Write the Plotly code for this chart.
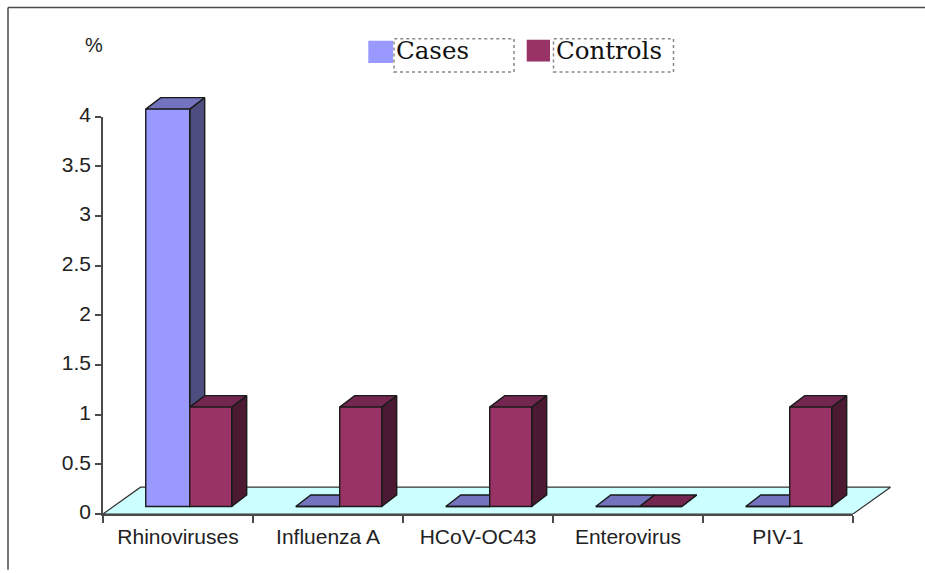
import plotly.graph_objects as go

categories = ["Rhinoviruses", "Influenza A", "HCoV-OC43", "Enterovirus", "PIV-1"]
cases = [4, 0, 0, 0, 0]
controls = [1, 1, 1, 0, 1]
y_ticks = [0, 0.5, 1, 1.5, 2, 2.5, 3, 3.5, 4]
series_names = ["Cases", "Controls"]

# --- styling / 3D projection parameters ---
W, H = 925, 573
ML, PR, PT, PB = 103, 895, 90, 514.3   # plot box that holds the marks (pixels)
AXR, AXT = 853, 116.7                  # right end of x axis, top of y axis (pixels)
PXX = (AXR - ML) / len(categories)     # pixels per category
PXY = (PB - AXT) / 4                   # pixels per unit
XR = [-0.5, len(categories) - 0.5]
YR = [0, 4]
XR_M = [-0.5, -0.5 + (PR - ML) / PXX]  # same scale, wider box so depth can overhang
YR_M = [0, (PB - PT) / PXY]
BASE = 0.076           # bars stand slightly in from the front edge of the floor
DX, DY = 0.1, 0.116    # depth of a bar
FDX, FDY = 0.25, 0.27  # depth of the floor
OFFS = [-0.215, 0.078]
WIDTHS = [0.293, 0.28]
FRONT = ["#9999FF", "#993366"]
TOP = ["#7373BF", "#732650"]
SIDE = ["#4D4D80", "#4C1933"]
EDGE = "#1a1a1a"
AXC = "#4a4a4a"
TXT = "#222222"

fig = go.Figure()

# empty trace keeps the visible axes alive
fig.add_trace(go.Scatter(x=[], y=[], xaxis="x", yaxis="y", showlegend=False, hoverinfo="skip"))

# floor
fig.add_trace(go.Scatter(
    x=[XR[0], XR[1], XR[1] + FDX, XR[0] + FDX, XR[0]],
    y=[0, 0, FDY, FDY, 0], xaxis="x2", yaxis="y2",
    mode="lines", fill="toself", fillcolor="#CCFFFF",
    line=dict(color="#333333", width=1.2), hoverinfo="skip", showlegend=False))


def poly(xs, ys, fill):
    fig.add_trace(go.Scatter(
        x=xs, y=ys, mode="lines", fill="toself", fillcolor=fill, xaxis="x2", yaxis="y2",
        line=dict(color=EDGE, width=1.4), hoverinfo="skip", showlegend=False))


# side and top faces, back to front
for s, vals in enumerate([cases, controls]):
    sx, sy, tx, ty = [], [], [], []
    for i, v in enumerate(vals):
        x0 = i + OFFS[s]
        x1 = x0 + WIDTHS[s]
        b, t = BASE, BASE + v
        sx += [x1, x1 + DX, x1 + DX, x1, x1, None]
        sy += [b, b + DY, t + DY, t, b, None]
        tx += [x0, x1, x1 + DX, x0 + DX, x0, None]
        ty += [t, t, t + DY, t + DY, t, None]
    poly(sx, sy, SIDE[s])
    poly(tx, ty, TOP[s])

# front faces, on an overlaying subplot so they sit above the side faces
for s, vals in enumerate([cases, controls]):
    fig.add_trace(go.Bar(
        x=list(range(len(categories))), y=vals, base=BASE, name=series_names[s],
        offset=OFFS[s], width=WIDTHS[s], marker=dict(color=FRONT[s], line=dict(color=EDGE, width=1.4)),
        xaxis="x3", yaxis="y3", showlegend=False))

axis_font = dict(family="Liberation Sans, Arial, sans-serif", size=21, color=TXT)


def px(x):
    return (x - ML) / (PR - ML)


def py(y):
    return (PB - y) / (PB - PT)


shapes = [
    dict(type="line", xref="paper", yref="paper", x0=px(8), x1=px(W), y0=py(7.5), y1=py(7.5),
         line=dict(color=AXC, width=1.5)),
    dict(type="line", xref="paper", yref="paper", x0=px(8), x1=px(8), y0=py(7.5), y1=py(570),
         line=dict(color=AXC, width=1.5)),
]

annotations = [dict(text="%", xref="paper", yref="paper", x=px(93.5), y=py(45), showarrow=False,
                    xanchor="center", yanchor="middle",
                    font=dict(family="Liberation Sans, Arial, sans-serif", size=20, color=TXT))]

legend_boxes = [(368.3, 393, 40.7, 63, 394, 514), (526.7, 550, 39.7, 61.5, 553.5, 673.5)]
for s, (a, b, c, d, e, f) in enumerate(legend_boxes):
    shapes.append(dict(type="rect", xref="paper", yref="paper", x0=px(a), x1=px(b), y0=py(d), y1=py(c),
                       fillcolor=FRONT[s], line=dict(width=0)))
    shapes.append(dict(type="rect", xref="paper", yref="paper", x0=px(e), x1=px(f), y0=py(72), y1=py(38.7),
                       fillcolor="white", line=dict(color="#888888", width=1.5, dash="dot")))
    annotations.append(dict(text=series_names[s], xref="paper", yref="paper", x=px(e), y=py(50),
                            showarrow=False, xanchor="left", yanchor="middle",
                            font=dict(family="DejaVu Serif, serif", size=24.5, color="#111111")))

fig.update_layout(
    width=W, height=H, autosize=False,
    margin=dict(l=ML, r=W - PR, t=PT, b=H - PB, pad=0),
    paper_bgcolor="white", plot_bgcolor="rgba(0,0,0,0)",
    showlegend=False, barmode="overlay",
    shapes=shapes, annotations=annotations,
    xaxis=dict(type="linear", domain=[0, px(AXR)], range=XR, anchor="y", tickmode="array",
               tickvals=list(range(len(categories))), ticktext=categories, ticks="", showgrid=False,
               zeroline=False, showline=True, linecolor=AXC, linewidth=1.5, tickfont=axis_font,
               ticklabelstandoff=3,
               minor=dict(tickmode="array", tickvals=[i - 0.5 for i in range(len(categories) + 1)],
                          ticks="outside", ticklen=7, tickwidth=1.5, tickcolor=AXC, showgrid=False)),
    yaxis=dict(domain=[0, py(AXT)], range=YR, anchor="x", tickmode="array", tickvals=y_ticks,
               ticktext=[f"{v:g}" for v in y_ticks], ticks="outside", ticklen=6, tickwidth=1.5,
               tickcolor=AXC, showgrid=False, zeroline=False, showline=True, linecolor=AXC, linewidth=1.5,
               tickfont=axis_font, ticklabelshift=-2),
    xaxis2=dict(domain=[0, 1], range=XR_M, visible=False, anchor="y2"),
    yaxis2=dict(domain=[0, 1], range=YR_M, visible=False, anchor="x2"),
    xaxis3=dict(overlaying="x2", range=XR_M, visible=False, anchor="y3"),
    yaxis3=dict(overlaying="y2", range=YR_M, visible=False, anchor="x3"),
)

fig.write_html("out.html", config=dict(displayModeBar=False), post_script="document.body.style.margin='0';")
